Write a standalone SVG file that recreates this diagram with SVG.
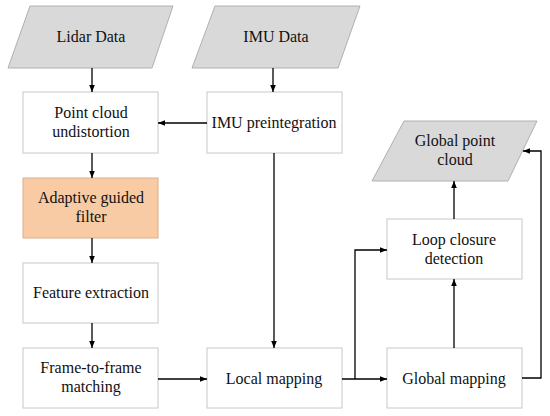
<svg xmlns="http://www.w3.org/2000/svg" width="550" height="416" viewBox="0 0 550 416">
<defs>
<marker id="ah" viewBox="0 0 10 10" refX="10" refY="5" markerWidth="7" markerHeight="7" orient="auto" markerUnits="userSpaceOnUse">
<path d="M0,1 L10,5 L0,9 Z" fill="#000"/>
</marker>
</defs>
<rect width="550" height="416" fill="#fff"/>
<g id="nodes" font-family="Times New Roman, Liberation Serif, serif" font-size="16" text-anchor="middle">
<g id="io-nodes" fill="#d9d9d9" stroke="#b0b0b0" stroke-width="1">
<g id="lidar"><polygon points="30,6 173,6 152,68 8,68"/><text font-family="Times New Roman" fill="#111" stroke="none" x="91" y="42">Lidar Data</text></g>
<g id="imu"><polygon points="215,6 360,6 338,68 192,68"/><text font-family="Times New Roman" fill="#111" stroke="none" x="276" y="42">IMU Data</text></g>
<g id="gpc"><polygon points="404,121 537,121 508,181 372,181"/><text font-family="Times New Roman" fill="#111" stroke="none" x="455" y="146">Global point</text><text font-family="Times New Roman" fill="#111" stroke="none" x="455" y="165">cloud</text></g>
</g>
<g id="process-nodes" fill="#ffffff" stroke="#c8c8c8" stroke-width="1">
<g id="undistort"><rect x="23" y="92" width="135" height="61"/><text font-family="Times New Roman" fill="#111" stroke="none" x="91" y="118">Point cloud</text><text font-family="Times New Roman" fill="#111" stroke="none" x="91" y="137">undistortion</text></g>
<g id="preint"><rect x="207" y="92" width="135" height="61"/><text font-family="Times New Roman" fill="#111" stroke="none" x="274" y="128">IMU preintegration</text></g>
<g id="filter"><rect fill="#f8cba5" stroke="#d9b08c" x="23" y="178" width="135" height="60"/><text font-family="Times New Roman" fill="#111" stroke="none" x="91" y="203">Adaptive guided</text><text font-family="Times New Roman" fill="#111" stroke="none" x="91" y="222">filter</text></g>
<g id="feature"><rect x="23" y="263" width="135" height="60"/><text font-family="Times New Roman" fill="#111" stroke="none" x="91" y="298">Feature extraction</text></g>
<g id="f2f"><rect x="23" y="348" width="135" height="60"/><text font-family="Times New Roman" fill="#111" stroke="none" x="91" y="373">Frame-to-frame</text><text font-family="Times New Roman" fill="#111" stroke="none" x="91" y="392">matching</text></g>
<g id="local"><rect x="207" y="348" width="135" height="60"/><text font-family="Times New Roman" fill="#111" stroke="none" x="274" y="384">Local mapping</text></g>
<g id="global"><rect x="387" y="348" width="135" height="60"/><text font-family="Times New Roman" fill="#111" stroke="none" x="454" y="384">Global mapping</text></g>
<g id="loop"><rect x="387" y="219" width="135" height="60"/><text font-family="Times New Roman" fill="#111" stroke="none" x="454" y="245">Loop closure</text><text font-family="Times New Roman" fill="#111" stroke="none" x="454" y="264">detection</text></g>
</g>
</g>
<g id="connectors" fill="none" stroke="#000" stroke-width="1.3" marker-end="url(#ah)">
<path d="M92,68 V92"/>
<path d="M273,68 V92"/>
<path d="M207,123 H158"/>
<path d="M92,153 V178"/>
<path d="M92,238 V263"/>
<path d="M92,323 V348"/>
<path d="M158,379 H207"/>
<path d="M274,153 V348"/>
<path d="M342,379 H387"/>
<path d="M355,379 V250 H387"/>
<path d="M454,348 V279"/>
<path d="M454,219 V181"/>
<path d="M522,378 H541 V151 H523"/>
</g>
</svg>
